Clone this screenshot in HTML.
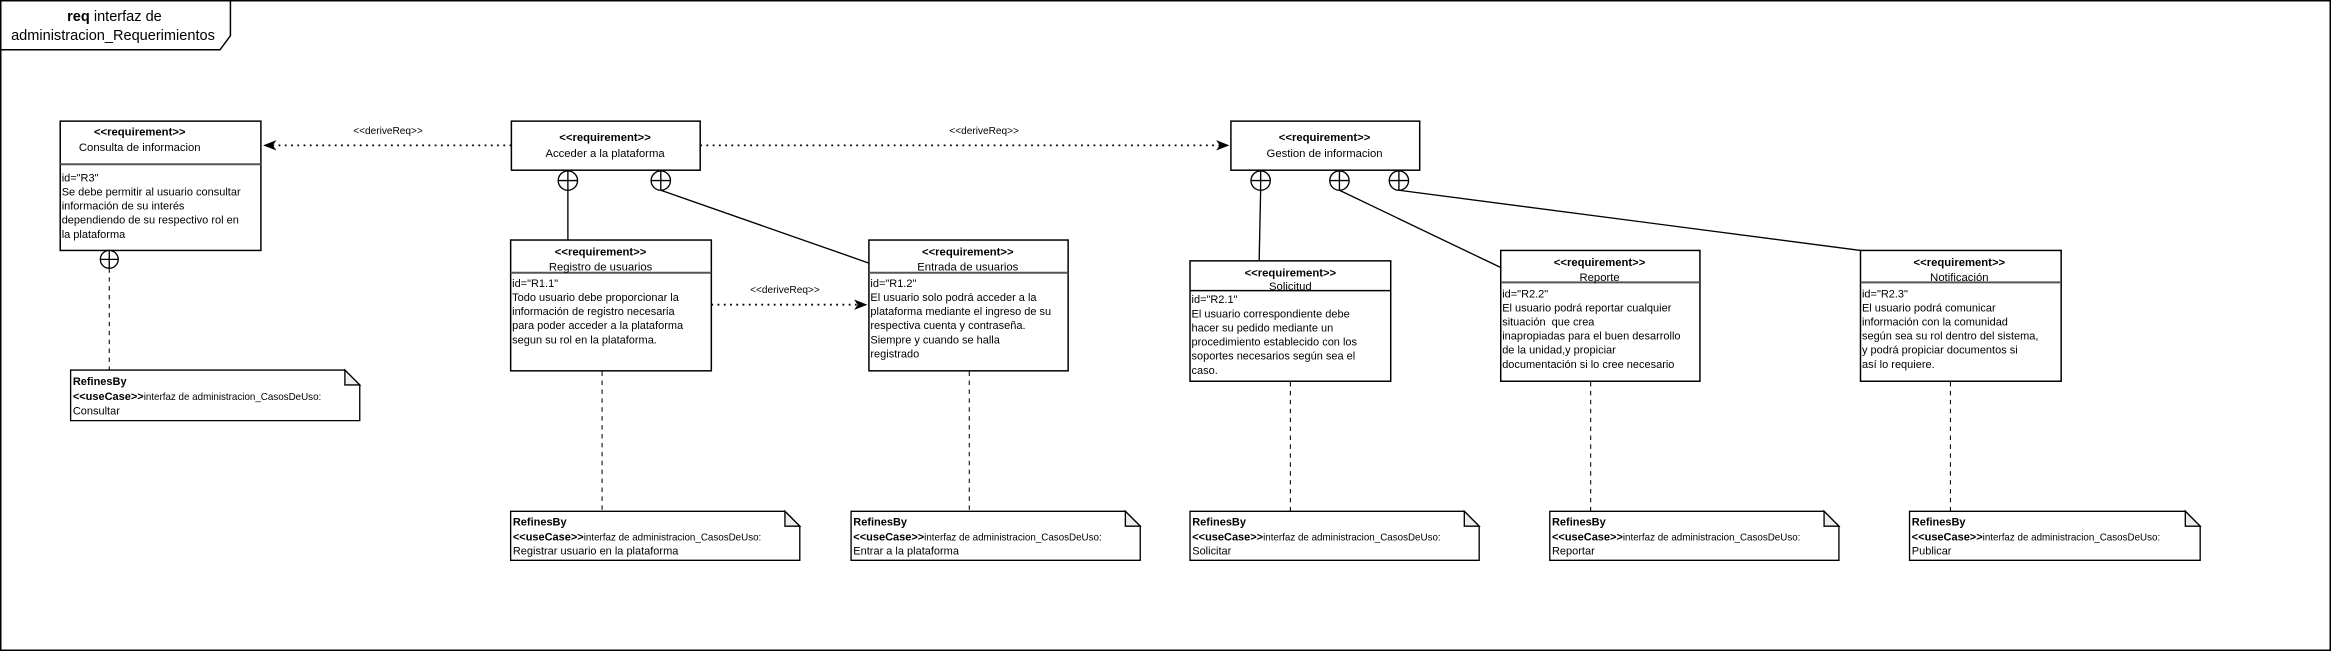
<!DOCTYPE html>
<html><head><meta charset="utf-8"><style>
html,body{margin:0;padding:0;background:#fff;}
svg{display:block;}
text{font-family:"Liberation Sans",Arial,sans-serif;fill:#000;}
.s{font-size:7.4px;}
.h{font-size:7.6px;}
.b{font-weight:bold;}
</style></head><body>
<svg width="2331" height="651" viewBox="0 0 1568 438" preserveAspectRatio="none" xmlns="http://www.w3.org/2000/svg">
<defs>
<marker id="ah" markerWidth="10" markerHeight="8" refX="9" refY="4" orient="auto" markerUnits="userSpaceOnUse">
<path d="M0,0.5 L9,4 L0,7.5 L2.5,4 Z" fill="#000"/>
</marker>
</defs>
<rect x="0.5" y="0.5" width="1567" height="437" fill="#fff" stroke="#000" stroke-width="1"/>
<path d="M0.5,33.5 L148,33.5 L155,24 L155,0.5" fill="none" stroke="#000" stroke-width="1"/>
<text x="77" y="14" text-anchor="middle" style="font-size:9.8px"><tspan font-weight="bold">req</tspan> interfaz de</text>
<text x="76" y="27" text-anchor="middle" style="font-size:9.8px">administracion_Requerimientos</text>

<g stroke="#000" stroke-width="1" fill="#fff">
<rect x="40.5" y="81.5" width="135" height="87"/>
<rect x="344" y="81.5" width="127" height="33"/>
<rect x="828" y="81.5" width="127" height="33"/>
<rect x="343.5" y="161.5" width="135" height="88"/>
<rect x="584.5" y="161.5" width="134" height="88"/>
<rect x="800.5" y="175.5" width="135" height="81"/>
<rect x="1009.5" y="168.5" width="134" height="88"/>
<rect x="1251.5" y="168.5" width="135" height="88"/>
</g>
<g stroke="#555" stroke-width="1.3">
<line x1="40.5" y1="110.5" x2="175.5" y2="110.5"/>
<line x1="343.5" y1="183.5" x2="478.5" y2="183.5"/>
<line x1="584.5" y1="183.5" x2="718.5" y2="183.5"/>
<line x1="800.5" y1="195.5" x2="935.5" y2="195.5" stroke="#000" stroke-width="1"/>
<line x1="1009.5" y1="190" x2="1143.5" y2="190"/>
<line x1="1251.5" y1="190" x2="1386.5" y2="190"/>
</g>

<g stroke="#000" stroke-width="0.9" fill="#fff">
<circle cx="73.5" cy="174.5" r="6"/><line x1="67.5" y1="174.5" x2="79.5" y2="174.5"/><line x1="73.5" y1="168.5" x2="73.5" y2="180.5"/>
<circle cx="382" cy="121.5" r="6.5"/><line x1="375.5" y1="121.5" x2="388.5" y2="121.5"/><line x1="382" y1="115" x2="382" y2="128"/>
<circle cx="444.5" cy="121.5" r="6.5"/><line x1="438" y1="121.5" x2="451" y2="121.5"/><line x1="444.5" y1="115" x2="444.5" y2="128"/>
<circle cx="848" cy="121.5" r="6.5"/><line x1="841.5" y1="121.5" x2="854.5" y2="121.5"/><line x1="848" y1="115" x2="848" y2="128"/>
<circle cx="901" cy="121.5" r="6.5"/><line x1="894.5" y1="121.5" x2="907.5" y2="121.5"/><line x1="901" y1="115" x2="901" y2="128"/>
<circle cx="941" cy="121.5" r="6.5"/><line x1="934.5" y1="121.5" x2="947.5" y2="121.5"/><line x1="941" y1="115" x2="941" y2="128"/>
</g>
<g stroke="#000" stroke-width="0.9">
<line x1="382" y1="128" x2="382" y2="161.5"/>
<line x1="444.5" y1="128" x2="584.5" y2="177"/>
<line x1="848" y1="128" x2="847" y2="175.5"/>
<line x1="901" y1="128" x2="1009.5" y2="180"/>
<line x1="941" y1="128" x2="1251.5" y2="168.5"/>
</g>

<g stroke="#000" stroke-width="1.2" stroke-dasharray="1.2,3" fill="none">
<line x1="344" y1="97.8" x2="177" y2="97.8" marker-end="url(#ah)"/>
<line x1="471" y1="97.8" x2="827" y2="97.8" marker-end="url(#ah)"/>
<line x1="478.5" y1="205" x2="583.5" y2="205" marker-end="url(#ah)"/>
</g>
<text x="261" y="90" text-anchor="middle" style="font-size:6.8px">&lt;&lt;deriveReq&gt;&gt;</text>
<text x="662" y="90" text-anchor="middle" style="font-size:6.8px">&lt;&lt;deriveReq&gt;&gt;</text>
<text x="528" y="197" text-anchor="middle" style="font-size:6.8px">&lt;&lt;deriveReq&gt;&gt;</text>

<g stroke="#000" stroke-width="0.7" stroke-dasharray="3,3">
<line x1="73.5" y1="180.5" x2="73.5" y2="249"/>
<line x1="405" y1="250" x2="405" y2="344"/>
<line x1="652" y1="250" x2="652" y2="344"/>
<line x1="868" y1="257" x2="868" y2="344"/>
<line x1="1070" y1="257" x2="1070" y2="344"/>
<line x1="1312" y1="257" x2="1312" y2="344"/>
</g>

<g class="h">
<text x="94" y="91" text-anchor="middle" class="b h">&lt;&lt;requirement&gt;&gt;</text>
<text x="94" y="101.5" text-anchor="middle" class="h">Consulta de informacion</text>
<text x="407" y="95" text-anchor="middle" class="b h">&lt;&lt;requirement&gt;&gt;</text>
<text x="407" y="105.5" text-anchor="middle" class="h">Acceder a la plataforma</text>
<text x="891" y="95" text-anchor="middle" class="b h">&lt;&lt;requirement&gt;&gt;</text>
<text x="891" y="105.5" text-anchor="middle" class="h">Gestion de informacion</text>
<text x="404" y="172" text-anchor="middle" class="b h">&lt;&lt;requirement&gt;&gt;</text>
<text x="404" y="182" text-anchor="middle" class="h">Registro de usuarios</text>
<text x="651" y="172" text-anchor="middle" class="b h">&lt;&lt;requirement&gt;&gt;</text>
<text x="651" y="182" text-anchor="middle" class="h">Entrada de usuarios</text>
<text x="868" y="186" text-anchor="middle" class="b h">&lt;&lt;requirement&gt;&gt;</text>
<text x="868" y="195" text-anchor="middle" class="h">Solicitud</text>
<text x="1076" y="179" text-anchor="middle" class="b h">&lt;&lt;requirement&gt;&gt;</text>
<text x="1076" y="189" text-anchor="middle" class="h">Reporte</text>
<text x="1318" y="179" text-anchor="middle" class="b h">&lt;&lt;requirement&gt;&gt;</text>
<text x="1318" y="189" text-anchor="middle" class="h">Notificación</text>
</g>
<g class="s">
<text x="41.5" y="122" class="s">id="R3"</text>
<text x="41.5" y="131.5" class="s">Se debe permitir al usuario consultar</text>
<text x="41.5" y="141" class="s">información de su interés</text>
<text x="41.5" y="150.5" class="s">dependiendo de su respectivo rol en</text>
<text x="41.5" y="160" class="s">la plataforma</text>

<text x="344.5" y="193" class="s">id="R1.1"</text>
<text x="344.5" y="202.5" class="s">Todo usuario debe proporcionar la</text>
<text x="344.5" y="212" class="s">información de registro necesaria</text>
<text x="344.5" y="221.5" class="s">para poder acceder a la plataforma</text>
<text x="344.5" y="231" class="s">segun su rol en la plataforma.</text>

<text x="585.5" y="193" class="s">id="R1.2"</text>
<text x="585.5" y="202.5" class="s">El usuario solo podrá acceder a la</text>
<text x="585.5" y="212" class="s">plataforma mediante el ingreso de su</text>
<text x="585.5" y="221.5" class="s">respectiva cuenta y contraseña.</text>
<text x="585.5" y="231" class="s">Siempre y cuando se halla</text>
<text x="585.5" y="240.5" class="s">registrado</text>

<text x="801.5" y="204" class="s">id="R2.1"</text>
<text x="801.5" y="213.5" class="s">El usuario correspondiente debe</text>
<text x="801.5" y="223" class="s">hacer su pedido mediante un</text>
<text x="801.5" y="232.5" class="s">procedimiento establecido con los</text>
<text x="801.5" y="242" class="s">soportes necesarios según sea el</text>
<text x="801.5" y="251.5" class="s">caso.</text>

<text x="1010.5" y="200" class="s">id="R2.2"</text>
<text x="1010.5" y="209.5" class="s">El usuario podrá reportar cualquier</text>
<text x="1010.5" y="219" class="s" xml:space="preserve">situación  que crea</text>
<text x="1010.5" y="228.5" class="s">inapropiadas para el buen desarrollo</text>
<text x="1010.5" y="238" class="s">de la unidad,y propiciar</text>
<text x="1010.5" y="247.5" class="s">documentación si lo cree necesario</text>

<text x="1252.5" y="200" class="s">id="R2.3"</text>
<text x="1252.5" y="209.5" class="s">El usuario podrá comunicar</text>
<text x="1252.5" y="219" class="s">información con la comunidad</text>
<text x="1252.5" y="228.5" class="s">según sea su rol dentro del sistema,</text>
<text x="1252.5" y="238" class="s">y podrá propiciar documentos si</text>
<text x="1252.5" y="247.5" class="s">así lo requiere.</text>
</g>

<g stroke="#000" stroke-width="0.9">
<path d="M47.5,249 L232,249 L242,259 L242,283 L47.5,283 Z" fill="#fff"/><path d="M232,249 L232,259 L242,259 Z" fill="#eee"/>
<path d="M343.5,344 L528,344 L538,354 L538,377 L343.5,377 Z" fill="#fff"/><path d="M528,344 L528,354 L538,354 Z" fill="#eee"/>
<path d="M572.5,344 L757,344 L767,354 L767,377 L572.5,377 Z" fill="#fff"/><path d="M757,344 L757,354 L767,354 Z" fill="#eee"/>
<path d="M800.5,344 L985,344 L995,354 L995,377 L800.5,377 Z" fill="#fff"/><path d="M985,344 L985,354 L995,354 Z" fill="#eee"/>
<path d="M1042.5,344 L1227,344 L1237,354 L1237,377 L1042.5,377 Z" fill="#fff"/><path d="M1227,344 L1227,354 L1237,354 Z" fill="#eee"/>
<path d="M1284.5,344 L1470,344 L1480,354 L1480,377 L1284.5,377 Z" fill="#fff"/><path d="M1470,344 L1470,354 L1480,354 Z" fill="#eee"/>
</g>
<g>
<text x="49" y="259" class="s b">RefinesBy</text>
<text x="49" y="269" style="font-size:6.6px"><tspan font-weight="bold" style="font-size:7.4px">&lt;&lt;useCase&gt;&gt;</tspan>interfaz de administracion_CasosDeUso:</text>
<text x="49" y="279" class="s">Consultar</text>

<text x="345" y="353.5" class="s b">RefinesBy</text>
<text x="345" y="363.5" style="font-size:6.6px"><tspan font-weight="bold" style="font-size:7.4px">&lt;&lt;useCase&gt;&gt;</tspan>interfaz de administracion_CasosDeUso:</text>
<text x="345" y="373" class="s">Registrar usuario en la plataforma</text>

<text x="574" y="353.5" class="s b">RefinesBy</text>
<text x="574" y="363.5" style="font-size:6.6px"><tspan font-weight="bold" style="font-size:7.4px">&lt;&lt;useCase&gt;&gt;</tspan>interfaz de administracion_CasosDeUso:</text>
<text x="574" y="373" class="s">Entrar a la plataforma</text>

<text x="802" y="353.5" class="s b">RefinesBy</text>
<text x="802" y="363.5" style="font-size:6.6px"><tspan font-weight="bold" style="font-size:7.4px">&lt;&lt;useCase&gt;&gt;</tspan>interfaz de administracion_CasosDeUso:</text>
<text x="802" y="373" class="s">Solicitar</text>

<text x="1044" y="353.5" class="s b">RefinesBy</text>
<text x="1044" y="363.5" style="font-size:6.6px"><tspan font-weight="bold" style="font-size:7.4px">&lt;&lt;useCase&gt;&gt;</tspan>interfaz de administracion_CasosDeUso:</text>
<text x="1044" y="373" class="s">Reportar</text>

<text x="1286" y="353.5" class="s b">RefinesBy</text>
<text x="1286" y="363.5" style="font-size:6.6px"><tspan font-weight="bold" style="font-size:7.4px">&lt;&lt;useCase&gt;&gt;</tspan>interfaz de administracion_CasosDeUso:</text>
<text x="1286" y="373" class="s">Publicar</text>
</g>
</svg>
</body></html>
